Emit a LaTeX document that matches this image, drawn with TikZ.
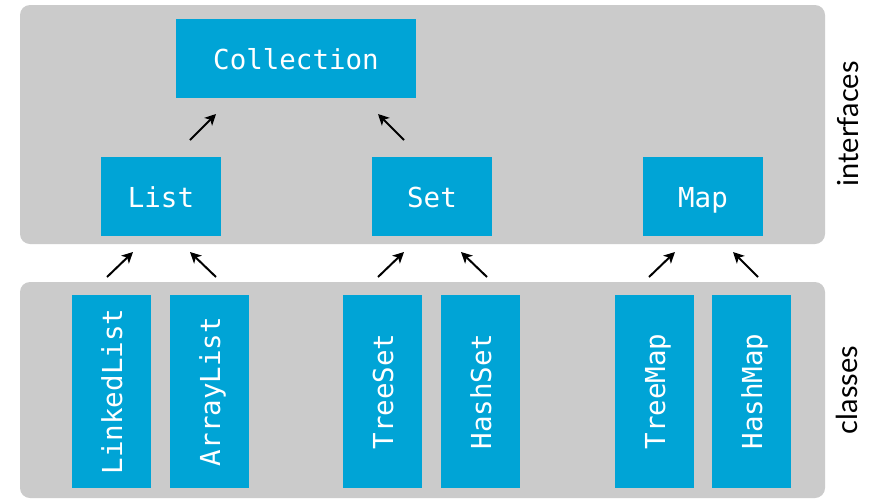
\documentclass[tikz,border=0pt]{standalone}
\usepackage{fontspec}
\usetikzlibrary{arrows.meta}
\setmonofont{DejaVu Sans Mono}
\newfontfamily\labelfont{Lato}
\definecolor{boxblue}{HTML}{00A4D6}
\definecolor{panel}{HTML}{CBCBCB}
\tikzset{
  iface/.style={fill=boxblue, text=white, font=\ttfamily\fontsize{27.5}{27.5}\selectfont,
    text height=27pt, text depth=6pt,
    minimum width=120pt, minimum height=79pt, inner sep=0pt},
  impl/.style={iface, rotate=90, minimum width=193pt, minimum height=79pt},
  layer/.style={rotate=90, font=\labelfont\fontsize{29}{29}\selectfont},
  inherit/.style={-{Stealth[length=11pt,width=11pt,inset=3pt]}, line width=2pt},
}
\begin{document}
\begin{tikzpicture}[x=1pt,y=-1pt]
\useasboundingbox (0,0) rectangle (876,499);
\fill[panel, rounded corners=10pt] (20,5) rectangle (825,244);
\fill[panel, rounded corners=10pt] (20,282) rectangle (825,498);
\node[iface, minimum width=240pt] (Collection) at (296,58.5) {Collection};
\foreach \x/\n in {161/List,432/Set,703/Map}{
    \node[iface] (\n) at (\x,196.5) {\n};
}
\foreach \x/\n in {111.5/LinkedList,209.5/ArrayList,382.5/TreeSet,480.5/HashSet,654.5/TreeMap,751.5/HashMap}{
    \node[impl] (\n) at (\x,391.5) {\n};
}
\node[layer] (interfaces) at (848,124) {interfaces};
\node[layer] (classes) at (847,390) {classes};
% inheritance arrows
\foreach \a/\b/\c/\d/\n in {190/140/216/114/a1,404/140/378/114/a2,107/277/133/252/a3,216/277/190/252/a4,
    378/277/404/252/a5,487/277/461/252/a6,649/277/675/252/a7,758/277/733/252/a8}{
    \coordinate (\n-tail) at (\a,\b);
    \coordinate (\n-head) at (\c,\d);
    \draw[inherit] (\n-tail) -- (\n-head);
}
\end{tikzpicture}
\end{document}
